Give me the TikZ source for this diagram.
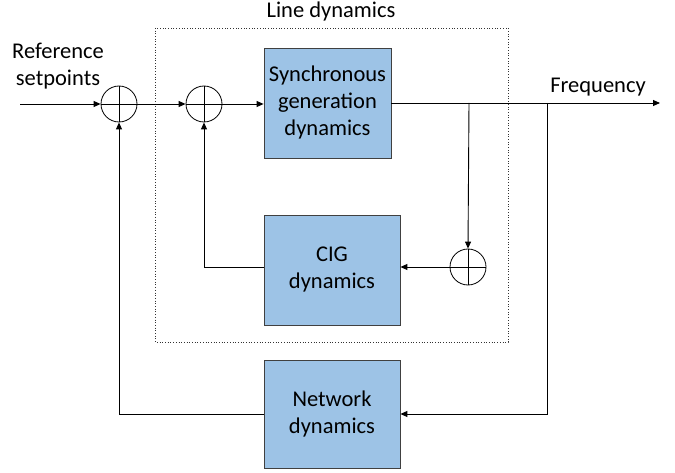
\documentclass[tikz,border=0pt]{standalone}
\usepackage{fontspec}
\setmainfont{Carlito}
\usetikzlibrary{arrows.meta}
\begin{document}
\begin{tikzpicture}[x=1pt,y=-1pt,
  font=\fontsize{22.5}{27}\selectfont,
  block/.style={draw=black!75,line width=0.8pt,fill=boxblue,
    minimum width=#1,align=center,inner sep=0pt},
  sumnode/.style={draw,circle,minimum size=36pt,inner sep=0pt,line width=0.8pt,
    path picture={\draw[line width=0.8pt] (path picture bounding box.north)--(path picture bounding box.south)
      (path picture bounding box.west)--(path picture bounding box.east);}},
  sig/.style={line width=0.9pt,-{Triangle[length=7pt,width=6pt]}},
  frame/.style={draw=black!80,dotted,line width=0.7pt}]
\definecolor{boxblue}{RGB}{157,195,230}
\useasboundingbox (0,0) rectangle (675,473);
% outer dotted frame
\draw[frame] (155,28) rectangle (508,342);
\node (lbl) at (331,12) {Line dynamics};
% blocks
\node[block=127pt,minimum height=110pt] (sync) at (327.5,103) {Synchronous\\generation\\dynamics};
\node[block=136pt,minimum height=110pt] (cig) at (332,270) {CIG\\dynamics};
\node[block=136pt,minimum height=108pt] (net) at (332,414) {Network\\dynamics};
% summing junctions
\node[sumnode] (s1) at (119,104) {};
\node[sumnode] (s2) at (204,104) {};
\node[sumnode] (s3) at (468,267) {};
% labels and terminals
\node[align=center] (ref) at (58,66) {Reference\\setpoints};
\node (freq) at (598,87) {Frequency};
\coordinate (in) at (20,104);
\coordinate (out) at (660,103);
\coordinate (b1) at (469,103);
\coordinate (b2) at (547,103);
% forward path
\draw[sig] (in) -- (s1.west);
\draw[sig] (s1.east) -- (s2.west);
\draw[sig] (s2.east) -- (sync.west |- s2.east);
\draw[sig] (sync.east |- out) -- (out);
% CIG loop
\draw[sig] (b1) -- (s3.north);
\draw[sig] (s3.west) -- (cig.east |- s3.west);
\draw[sig] (cig.west |- s3.west) -| (s2.south);
% network loop
\draw[sig] (b2) |- (net.east);
\draw[sig] (net.west) -| (s1.south);
\end{tikzpicture}
\end{document}
